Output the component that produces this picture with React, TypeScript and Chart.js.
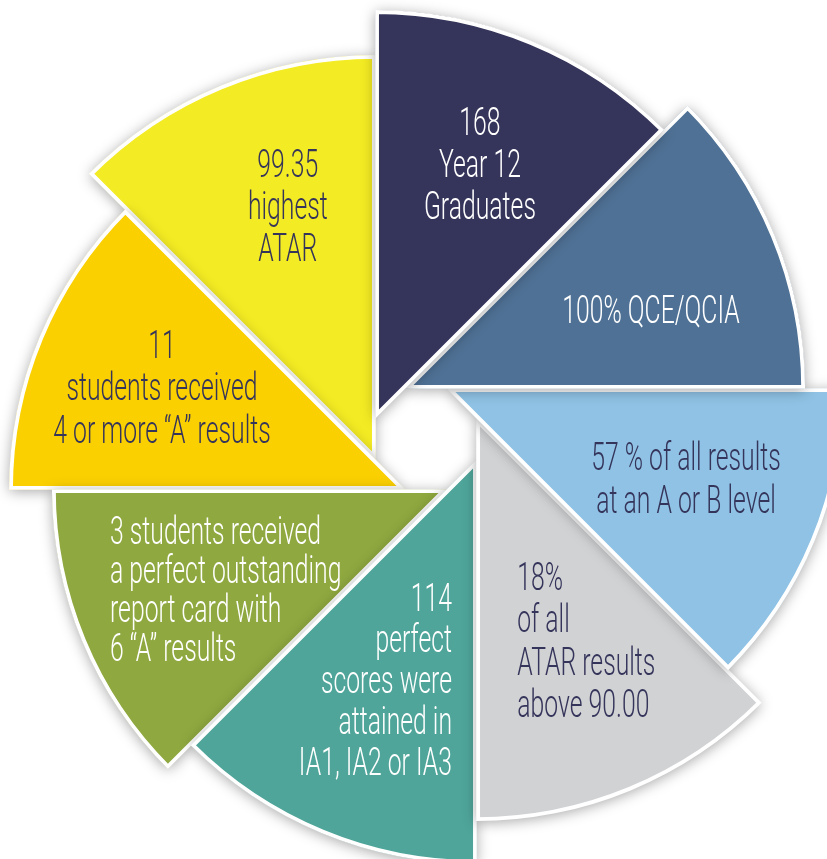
import React, { useEffect, useRef } from 'react';
import { Chart, registerables } from 'chart.js';

Chart.register(...registerables);

// Eight equal-angle wedges of the pinwheel infographic (clockwise from 12 o'clock)
const sliceLabels: string[][] = [
  ['168', 'Year 12', 'Graduates'],
  ['100% QCE/QCIA'],
  ['57 % of all results', 'at an A or B level'],
  ['18%', 'of all', 'ATAR results', 'above 90.00'],
  ['114', 'perfect', 'scores were', 'attained in', 'IA1, IA2 or IA3'],
  ['3 students received', 'a perfect outstanding', 'report card with', '6 \u201CA\u201D results'],
  ['11', 'students received', '4 or more \u201CA\u201D results'],
  ['99.35', 'highest', 'ATAR'],
];
// wedge sizes (radius, px)
const sliceRadii = [408, 400, 398, 403, 404, 395, 396, 405];
const radiusMax = 410;

const sliceColors = ['#35345a', '#4f7195', '#8fc2e4', '#d1d2d4', '#4fa59a', '#8fa83f', '#fbd000', '#f3eb23'];
const textColors = ['#ffffff', '#ffffff', '#35345a', '#35345a', '#ffffff', '#ffffff', '#35345a', '#35345a'];

// label placement relative to each shifted wedge apex: [distance, angle (deg, canvas), align, line height]
const labelPlacement: [number, number, CanvasTextAlign, number][] = [
  [263, -66.6, 'center', 42],
  [254.5, -14.9, 'center', 42],
  [260.3, 23.3, 'center', 43],
  [239, 80.2, 'left', 42.3],
  [234.4, 96, 'right', 41],
  [355.5, 161.4, 'left', 39],
  [259, 200.2, 'center', 42.5],
  [256.3, 250, 'center', 42],
];

const SHIFT = 54.7;
const FONT = '300 39px Roboto';
const SCALE_X = 0.635;

const pinwheelPlugin = {
  id: 'pinwheel',
  beforeDatasetDraw(chart: any, args: any) {
    const ctx: CanvasRenderingContext2D = chart.ctx;
    const els = args.meta.data;
    const shifts: [number, number][] = els.map((el: any) => {
      const p = el.getProps(['startAngle', 'endAngle'], true);
      const dir = (p.startAngle + p.endAngle) / 2 - Math.PI / 2;
      return [SHIFT * Math.cos(dir), SHIFT * Math.sin(dir)];
    });
    for (let i = els.length - 1; i >= 0; i--) {
      const el = els[i];
      const [dx, dy] = shifts[i];
      ctx.save();
      ctx.translate(dx - 10000, dy);
      ctx.shadowOffsetX = 10000;
      ctx.shadowOffsetY = 2;
      ctx.shadowBlur = 14;
      ctx.shadowColor = 'rgba(0,0,0,0.35)';
      el.draw(ctx);
      ctx.restore();
      ctx.save();
      ctx.translate(dx, dy);
      el.draw(ctx);
      ctx.restore();
    }
    els.forEach((el: any, i: number) => {
      const p = el.getProps(['x', 'y'], true);
      const [dx, dy] = shifts[i];
      const [dist, angDeg, align, lh] = labelPlacement[i];
      const a = (angDeg * Math.PI) / 180;
      const ax = p.x + dx + dist * Math.cos(a);
      const ay = p.y + dy + dist * Math.sin(a);
      const lines = sliceLabels[i];
      ctx.save();
      ctx.font = FONT;
      ctx.fillStyle = textColors[i];
      ctx.textAlign = align;
      ctx.textBaseline = 'alphabetic';
      lines.forEach((line, j) => {
        const y = ay + (j - (lines.length - 1) / 2) * lh;
        ctx.save();
        ctx.translate(ax, y);
        ctx.scale(SCALE_X, 1);
        ctx.fillText(line, 0, 0);
        ctx.restore();
      });
      ctx.restore();
    });
    return false;
  },
};

export default function App() {
  const ref = useRef<HTMLCanvasElement | null>(null);
  useEffect(() => {
    if (!ref.current) return;
    const chart = new Chart(ref.current, {
      type: 'polarArea',
      data: {
        labels: sliceLabels.map((l) => l.join(' ')),
        datasets: [
          {
            data: sliceRadii,
            backgroundColor: sliceColors,
            borderColor: '#ffffff',
            borderWidth: 3.5,
            borderAlign: 'inner',
          } as any,
        ],
      },
      options: {
        responsive: false,
        animation: false,
        layout: { padding: { left: 16, right: 44, top: 29, bottom: 51 } },
        scales: {
          r: { display: false, min: 0, max: radiusMax, startAngle: 0 },
        },
        plugins: {
          legend: { display: false },
          tooltip: { enabled: false },
        },
      },
      plugins: [pinwheelPlugin],
    });
    return () => chart.destroy();
  }, []);
  return (
    <div style={{ position: 'fixed', left: 0, top: 0, width: 827, height: 859, overflow: 'hidden', background: '#ffffff' }}>
      <canvas ref={ref} width={880} height={900} style={{ display: 'block' }} />
    </div>
  );
}
